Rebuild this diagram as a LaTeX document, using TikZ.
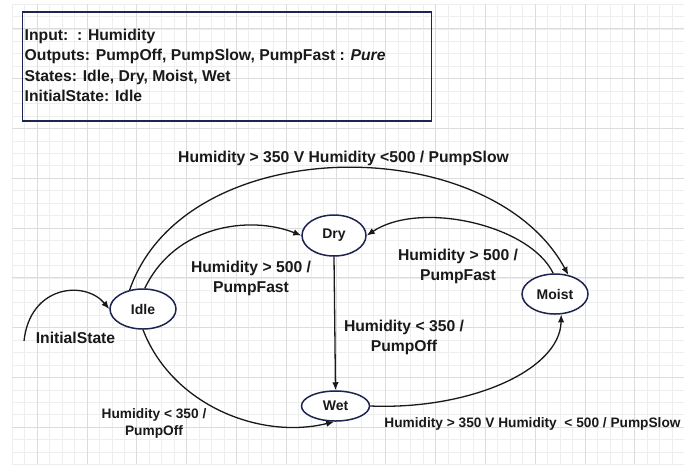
\documentclass[tikz,border=0pt]{standalone}
\usepackage{fontspec}
\setmainfont{Liberation Sans}
\usetikzlibrary{shapes.geometric,arrows.meta}
\definecolor{navy}{RGB}{30,36,82}
\definecolor{ink}{RGB}{25,25,25}
\definecolor{gminor}{RGB}{238,238,238}
\definecolor{gmajor}{RGB}{220,220,220}
\begin{document}
\begin{tikzpicture}[x=1pt,y=-1pt,
  state/.style={ellipse,draw=navy,line width=1.5pt,fill=white,minimum width=66pt,minimum height=40pt,inner sep=0pt,font=\fontsize{14}{16}\selectfont\bfseries,text=ink},
  trans/.style={draw=ink,line width=1.3pt,-{Latex[length=8pt,width=6.5pt]}},
  lbl/.style={font=\fontsize{15.7}{20}\selectfont\bfseries,text=ink,align=center,inner sep=0pt},
  slbl/.style={font=\fontsize{13.7}{17}\selectfont\bfseries,text=ink,align=center,inner sep=0pt},
  info/.style={font=\fontsize{15.7}{20}\selectfont\bfseries,text=ink,anchor=base west,inner sep=0pt},
  minorline/.style={draw=gminor,line width=0.8pt},
  majorline/.style={draw=gmajor,line width=1pt}]
\useasboundingbox (0,0) rectangle (684,464);
\fill[white] (0,0) rectangle (684,464);
% grid
\foreach \i in {0,...,54} {\draw[minorline] ({12.3+\i*12.45},4) -- ({12.3+\i*12.45},464);}
\foreach \j in {0,...,37} {\draw[minorline] (12.3,{4+\j*12.45}) -- (684,{4+\j*12.45});}
\foreach \k in {0,...,13} {\draw[majorline] ({37.2+\k*49.8},4) -- ({37.2+\k*49.8},464);}
\foreach \k in {0,...,8} {\draw[majorline] (12.3,{28.9+\k*49.8}) -- (684,{28.9+\k*49.8});}
% info box
\node[draw=navy,line width=1.5pt,minimum width=409pt,minimum height=109pt,anchor=north west,inner sep=0pt] (box) at (21.7,11) {};
\node[info] (in1) at (24.5,40) {Input:\ \ : Humidity};
\node[info] (in2) at (24.5,60.7) {Outputs: PumpOff, PumpSlow, PumpFast : \textit{Pure}};
\node[info] (in3) at (24.5,81) {States: Idle, Dry, Moist, Wet};
\node[info] (in4) at (24.5,101) {InitialState: Idle};
% states
\node[state] (idle) at (143,309) {Idle};
\node[state,minimum width=64pt,minimum height=41pt] (dry) at (334,235.5) {Dry};
\node[state] (moist) at (555,294) {Moist};
\node[state,minimum width=68pt,minimum height=30pt] (wet) at (335.5,406) {Wet};
% transitions
\coordinate (init) at (24,341);
\draw[trans] (init) .. controls (30,285) and (85,280) .. (idle.west);
\draw[trans] (idle.85) .. controls (175,225) and (250,215) .. (dry.west);
\draw[trans] (idle.125) .. controls (185,130) and (490,130) .. (moist.55);
\draw[trans] (moist.95) .. controls (530,225) and (420,200) .. (dry.east);
\draw[trans] (dry.south) -- (wet.north);
\draw[trans] (idle.south) .. controls (172,405) and (260,440) .. (wet.-95);
\draw[trans] (wet.east) .. controls (470,410) and (560,370) .. (moist.-73);
% labels
\node[lbl] (linit) at (75.5,337.5) {InitialState};
\node[lbl] (ltop) at (343.5,158) {Humidity > 350 V Humidity <500 / PumpSlow};
\node[lbl] (lidry) at (251,278) {Humidity > 500 /\\PumpFast};
\node[lbl] (lmdry) at (458,266) {Humidity > 500 /\\PumpFast};
\node[lbl] (ldwet) at (404,337) {Humidity < 350 /\\PumpOff};
\node[slbl] (liwet) at (154,423.5) {Humidity < 350 /\\PumpOff};
\node[slbl] (lwm) at (532.5,424) {Humidity > 350 V Humidity\ \ < 500 / PumpSlow};
\end{tikzpicture}
\end{document}
